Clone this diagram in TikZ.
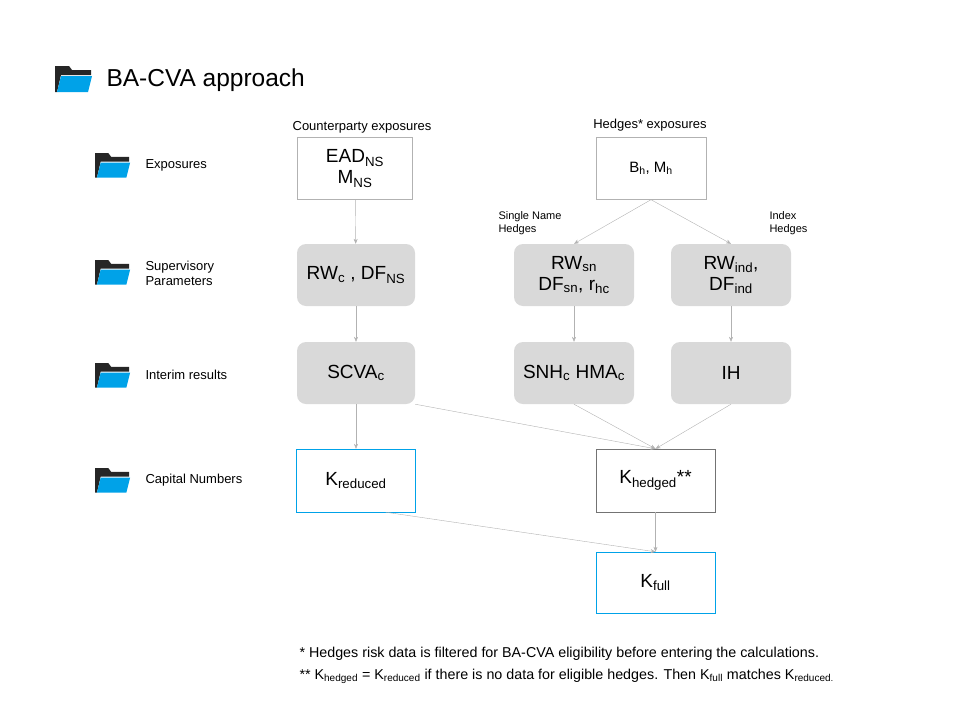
\documentclass[tikz,border=0pt]{standalone}
\usepackage{fontspec}
\setmainfont{Liberation Sans}
\usetikzlibrary{arrows.meta}
\definecolor{fblue}{HTML}{00A2E8}
\definecolor{bgray}{HTML}{D9D9D9}
\begin{document}
\begin{tikzpicture}[x=1pt,y=-1pt,
  box/.style={draw=black!30,fill=white,minimum width=#1,minimum height=62pt,inner sep=0pt,align=center,font=\fontsize{19}{21}\selectfont},
  gbox/.style={fill=bgray,rounded corners=9pt,minimum width=#1,minimum height=62pt,inner sep=0pt,align=center,font=\fontsize{19}{21}\selectfont},
  bbox/.style={draw=fblue,fill=white,minimum width=#1,minimum height=63pt,inner sep=0pt,align=center,font=\fontsize{19}{21}\selectfont},
  arr/.style={draw=black!30,-{Stealth[length=5pt,width=4pt]}},
  lab/.style={font=\fontsize{13}{15}\selectfont,anchor=west,align=left},
  small/.style={font=\fontsize{11}{13}\selectfont,align=left}]
\useasboundingbox (0,0) rectangle (960,720);
\newcommand{\myfolder}[3]{%
  \begin{scope}[shift={(#1,#2)},scale=#3]
    \fill[black!85] (0,0) -- (14,0) -- (17,4) -- (36,4) -- (36,9) -- (6,9) -- (2,26) -- (0,26) -- cycle;
    \fill[fblue] (6,10) -- (37,10) -- (33,26) -- (2,26) -- cycle;
  \end{scope}}
\myfolder{55}{66}{1}
\node[anchor=west,font=\fontsize{24.5}{28}\selectfont] (title) at (103,80) {BA-CVA approach};
\myfolder{95}{153}{0.95}
\myfolder{95}{260}{0.95}
\myfolder{95}{363}{0.95}
\myfolder{95}{468}{0.95}
\node[lab] (l1) at (142,165) {Exposures};
\node[lab] (l2) at (142,273) {Supervisory\\Parameters};
\node[lab] (l3) at (142,375) {Interim results};
\node[lab] (l4) at (142,480) {Capital Numbers};

\node[box=115pt] (ead) at (355,168.5) {EAD$_{\mathrm{NS}}$\\M$_{\mathrm{NS}}$};
\node[font=\fontsize{13}{15}\selectfont] (cpl) at (362,127) {Counterparty exposures};
\node[box=110pt] (bh) at (651,168.5) {\fontsize{15}{17}\selectfont B$_{\mathrm{h}}$, M$_{\mathrm{h}}$};
\node[font=\fontsize{13}{15}\selectfont] (hl) at (650,125) {Hedges* exposures};
\node[small,anchor=west] (snl) at (495,223) {Single Name\\Hedges};
\node[small,anchor=west] (ixl) at (766,223) {Index\\Hedges};

\node[gbox=118pt] (rwc) at (356,275) {RW$_{\mathrm{c}}$ , DF$_{\mathrm{NS}}$};
\node[gbox=120pt] (rwsn) at (574,275) {RW$_{\mathrm{sn}}$\\DF$_{\mathrm{sn}}$, r$_{\mathrm{hc}}$};
\node[gbox=120pt] (rwind) at (731,275) {RW$_{\mathrm{ind}}$,\\DF$_{\mathrm{ind}}$};
\node[gbox=118pt] (scva) at (356,373) {SCVA$_{\mathrm{c}}$};
\node[gbox=120pt] (snh) at (574,373) {SNH$_{\mathrm{c}}$ HMA$_{\mathrm{c}}$};
\node[gbox=120pt] (ih) at (731,373) {IH};
\node[bbox=119pt] (kred) at (356,480.5) {K$_{\mathrm{reduced}}$};
\node[box=119pt,minimum height=63pt,draw=black!55] (khed) at (655.5,480.5) {K$_{\mathrm{hedged}}$**};
\node[bbox=119pt,minimum height=61pt] (kfull) at (655.5,582.5) {K$_{\mathrm{full}}$};

\draw[arr] (ead) -- (rwc);
\draw[arr] (bh.south) -- (rwsn.north);
\draw[arr] (bh.south) -- (rwind.north);
\draw[arr] (rwc) -- (scva);
\draw[arr] (rwsn) -- (snh);
\draw[arr] (rwind) -- (ih);
\draw[arr] (scva) -- (kred);
\draw[arr] (scva.south east) -- (khed.north);
\draw[arr] (snh.south) -- (khed.north);
\draw[arr] (ih.south) -- (khed.north);
\draw[arr] ([xshift=-30pt]kred.south east) -- (kfull.north);
\draw[arr] (khed) -- (kfull);

\node[anchor=west,font=\fontsize{14.3}{17}\selectfont] (f1) at (296,654) {* Hedges risk data is filtered for BA-CVA eligibility before entering the calculations.};
\node[anchor=west,font=\fontsize{14.3}{17}\selectfont] (f2) at (296,676) {** K$_{\mathrm{hedged}}$ = K$_{\mathrm{reduced}}$ if there is no data for eligible hedges. Then K$_{\mathrm{full}}$ matches K$_{\mathrm{reduced.}}$};
\end{tikzpicture}
\end{document}
